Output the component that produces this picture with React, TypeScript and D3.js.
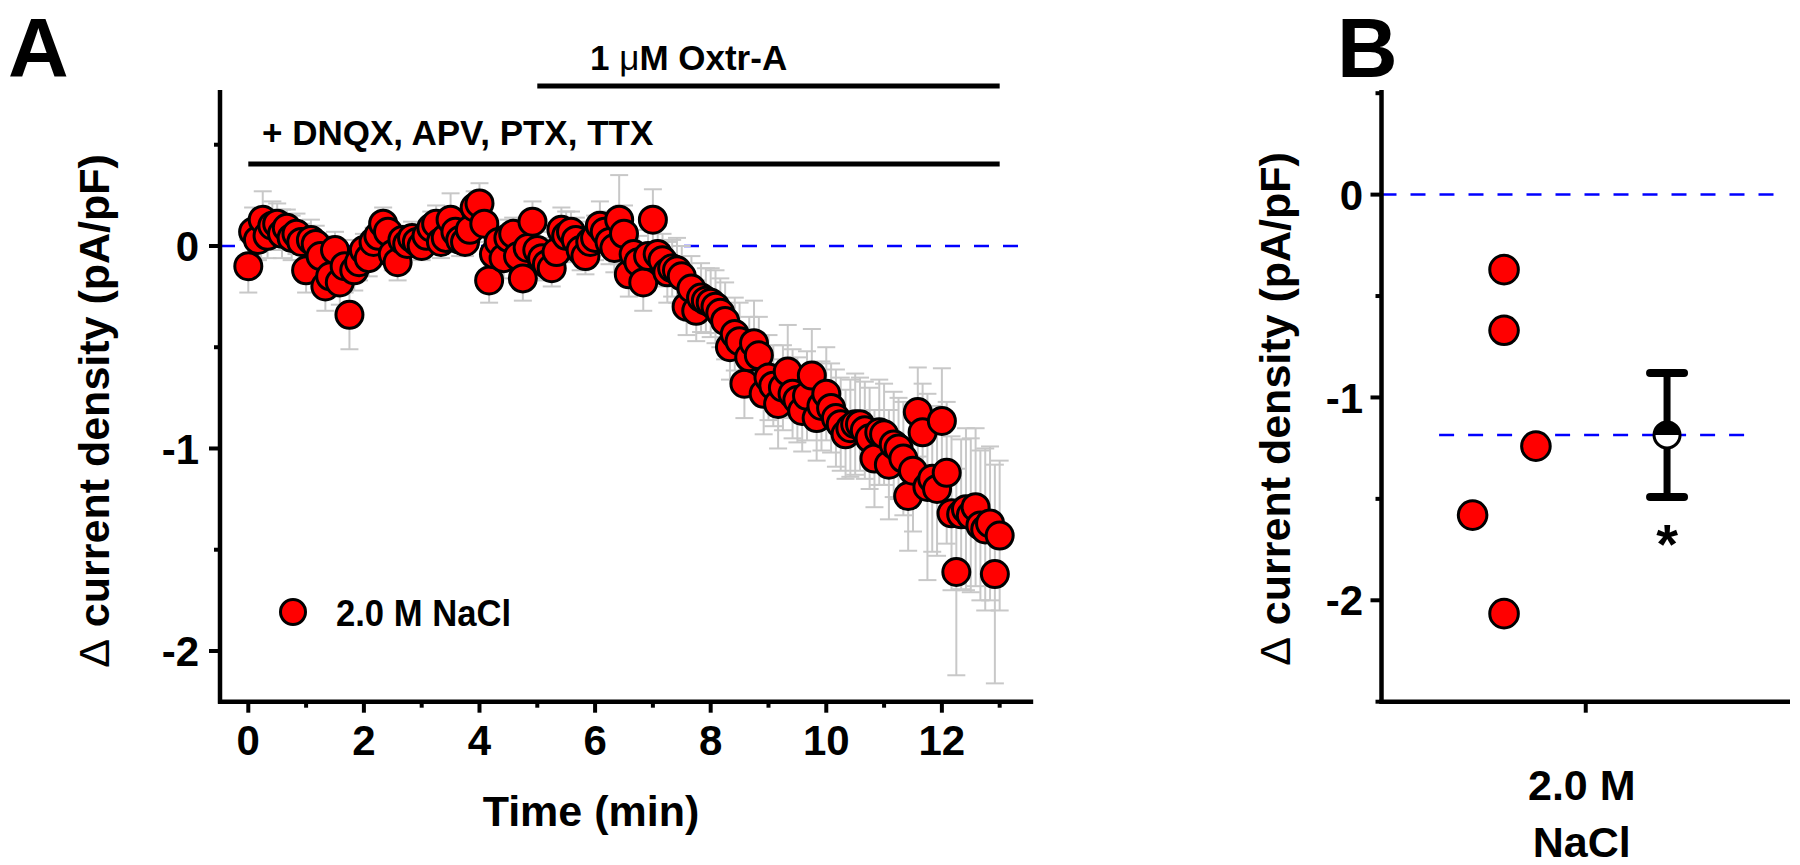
import React from 'react';
import * as d3 from 'd3';

// ---------- Panel A data (5 s sampling, minutes) ----------
const SAMPLE_INTERVAL_MIN = 5 / 60;
const deltaA: number[] = [
  -0.10, 0.07, 0.03, 0.13, 0.05, 0.10, 0.11, 0.06, 0.09, 0.04, 0.06, 0.02,
  -0.12, 0.03, 0.01, -0.05, -0.20, -0.15, -0.02, -0.18, -0.10, -0.34, -0.12, -0.08,
  -0.02, -0.06, 0.02, 0.05, 0.11, 0.07, -0.04, -0.08, 0.03, 0.01, 0.04, 0.02,
  0.00, 0.05, 0.09, 0.11, 0.02, 0.04, 0.13, 0.07, 0.03, 0.02, 0.08, 0.19,
  0.21, 0.11, -0.17, -0.04, 0.02, -0.06, 0.04, 0.06, -0.05, -0.16, -0.01, 0.12,
  -0.02, -0.06, -0.09, -0.11, -0.03, 0.08, 0.05, 0.07, 0.03, -0.02, -0.05, 0.02,
  0.04, 0.10, 0.07, 0.02, -0.01, 0.13, 0.06, -0.14, -0.04, -0.08, -0.18, -0.05,
  0.13, -0.04, -0.07, -0.13, -0.11, -0.12, -0.15, -0.30, -0.21, -0.32, -0.255, -0.27,
  -0.28, -0.30, -0.33, -0.37, -0.50, -0.435, -0.47, -0.68, -0.55, -0.48, -0.54, -0.73,
  -0.65, -0.69, -0.78, -0.70, -0.62, -0.73, -0.76, -0.815, -0.74, -0.64, -0.85, -0.79,
  -0.73, -0.80, -0.85, -0.88, -0.93, -0.90, -0.88, -0.88, -0.91, -0.95, -1.05, -0.92,
  -0.93, -1.08, -0.98, -1.00, -1.05, -1.235, -1.11, -0.82, -0.92, -1.19, -1.15, -1.20,
  -0.864, -1.12, -1.32, -1.61, -1.325, -1.30, -1.33, -1.29, -1.38, -1.40, -1.37, -1.62,
  -1.43,
];
const semA: number[] = [
  0.13, 0.12, 0.10, 0.14, 0.11, 0.12, 0.10, 0.12, 0.09, 0.11, 0.10, 0.09,
  0.11, 0.10, 0.09, 0.10, 0.12, 0.10, 0.09, 0.11, 0.13, 0.17, 0.10, 0.09,
  0.08, 0.09, 0.07, 0.09, 0.08, 0.07, 0.08, 0.09, 0.07, 0.06, 0.08, 0.07,
  0.07, 0.06, 0.08, 0.09, 0.08, 0.07, 0.13, 0.09, 0.08, 0.07, 0.09, 0.08,
  0.10, 0.09, 0.11, 0.09, 0.08, 0.10, 0.09, 0.08, 0.10, 0.11, 0.09, 0.10,
  0.09, 0.10, 0.08, 0.09, 0.10, 0.11, 0.12, 0.10, 0.11, 0.10, 0.09, 0.10,
  0.11, 0.12, 0.10, 0.11, 0.12, 0.22, 0.14, 0.11, 0.12, 0.13, 0.14, 0.13,
  0.15, 0.14, 0.13, 0.15, 0.14, 0.16, 0.15, 0.14, 0.16, 0.15, 0.17, 0.16,
  0.17, 0.18, 0.17, 0.19, 0.16, 0.18, 0.19, 0.17, 0.20, 0.21, 0.19, 0.20,
  0.21, 0.20, 0.22, 0.21, 0.23, 0.22, 0.21, 0.20, 0.22, 0.23, 0.21, 0.22,
  0.23, 0.22, 0.24, 0.23, 0.22, 0.24, 0.25, 0.23, 0.24, 0.25, 0.24, 0.26,
  0.25, 0.27, 0.26, 0.25, 0.28, 0.27, 0.30, 0.22, 0.24, 0.46, 0.36, 0.33,
  0.26, 0.35, 0.38, 0.51, 0.37, 0.40, 0.38, 0.39, 0.37, 0.40, 0.38, 0.54,
  0.37,
];
const xTicksMajorA = [0, 2, 4, 6, 8, 10, 12];
const xTicksMinorA = [1, 3, 5, 7, 9, 11, 13];
const yTicksMajorA = [0, -1, -2];
const yTicksMinorA = [0.5, -0.5, -1.5];
const drugBar = { label: '+ DNQX, APV, PTX, TTX', start: 0, end: 13 };
const oxtrBar = { label: 'M Oxtr-A', start: 5, end: 13 };
const legendLabel = '2.0 M NaCl';

// ---------- Panel B data ----------
const cellsB: number[] = [-0.37, -0.669, -1.24, -1.58, -2.066];
const jitterB: number[] = [0.30, 0.30, 0.378, 0.223, 0.30];
const yTicksMajorB = [0, -1, -2];
const yTicksMinorB = [0.5, -0.5, -1.5, -2.5];
const categoryB = ['2.0 M', 'NaCl'];

const FONT = "'Liberation Sans', Arial, Helvetica, sans-serif";
const RED = '#ff0000';
const BLUE = '#0000ff';
const GREY = '#c8c8c8';

export default function App() {
  const timesA = deltaA.map((_, i) => i * SAMPLE_INTERVAL_MIN);
  const xA = d3.scaleLinear().domain([-0.5, 13.58]).range([219.4, 1033.2]);
  const yA = d3.scaleLinear().domain([-2.25, 0.75]).range([701.6, 94.1]);
  const axisYA = 701.7;
  const axisXA = 220;

  const xB = d3.scaleLinear().domain([0, 1]).range([1381.5, 1790]);
  const yB = d3.scaleLinear().domain([-2.5, 0.5]).range([701.7, 93.2]);
  const meanB = d3.mean(cellsB) as number;
  const sdB = d3.deviation(cellsB) as number;
  const semB = sdB / Math.sqrt(cellsB.length);
  const axisYB = 701.7;
  const axisXB = 1381.5;

  const meanX = xB(0.699);
  const meanY = yB(meanB);
  const mr = 13;

  return (
    <svg width={1800} height={865} style={{ position: 'absolute', left: 0, top: 0, background: '#fff' }} fontFamily={FONT}>
      <rect width={1800} height={865} fill="#fff" />
      {/* ---------------- Panel A ---------------- */}
      <text x={8} y={77} fontSize={84} fontWeight="bold">A</text>

      {/* treatment bars */}
      <text x={590} y={70} fontSize={35} fontWeight="bold">
        1 <tspan fontWeight="normal">μ</tspan>{oxtrBar.label}
      </text>
      <line x1={xA(oxtrBar.start)} x2={xA(oxtrBar.end)} y1={86} y2={86} stroke="#000" strokeWidth={5} />
      <text x={262} y={145} fontSize={35} fontWeight="bold">{drugBar.label}</text>
      <line x1={xA(drugBar.start)} x2={xA(drugBar.end)} y1={164} y2={164} stroke="#000" strokeWidth={5} />

      {/* zero line */}
      <line x1={axisXA} x2={1020} y1={yA(0)} y2={yA(0)} stroke={BLUE} strokeWidth={2.5} strokeDasharray="15 14" />

      {/* error bars */}
      <g stroke={GREY} strokeWidth={2}>
        {deltaA.map((v, i) => {
          const x = xA(timesA[i]);
          const t = yA(v + semA[i]);
          const b = yA(v - semA[i]);
          return (
            <g key={i}>
              <line x1={x} x2={x} y1={t} y2={b} />
              <line x1={x - 9} x2={x + 9} y1={t} y2={t} />
              <line x1={x - 9} x2={x + 9} y1={b} y2={b} />
            </g>
          );
        })}
      </g>
      {/* points */}
      <g fill={RED} stroke="#000" strokeWidth={3}>
        {deltaA.map((v, i) => (
          <circle key={i} cx={xA(timesA[i])} cy={yA(v)} r={13.5} />
        ))}
      </g>

      {/* legend */}
      <circle cx={293} cy={612} r={12.5} fill={RED} stroke="#000" strokeWidth={3} />
      <text x={336} y={626} fontSize={37} fontWeight="bold" textLength={175} lengthAdjust="spacingAndGlyphs">{legendLabel}</text>

      {/* axes A */}
      <line x1={axisXA} x2={axisXA} y1={90} y2={axisYA + 2} stroke="#000" strokeWidth={4.5} />
      <line x1={axisXA - 2} x2={xA(13.58)} y1={axisYA} y2={axisYA} stroke="#000" strokeWidth={4.5} />
      {yTicksMajorA.map((t) => (
        <g key={t}>
          <line x1={axisXA - 11} x2={axisXA} y1={yA(t)} y2={yA(t)} stroke="#000" strokeWidth={4} />
          <text x={199} y={yA(t)} dy="0.36em" textAnchor="end" fontSize={42} fontWeight="bold">{t}</text>
        </g>
      ))}
      {yTicksMinorA.map((t) => (
        <line key={t} x1={axisXA - 6} x2={axisXA} y1={yA(t)} y2={yA(t)} stroke="#000" strokeWidth={4} />
      ))}
      {xTicksMajorA.map((t) => (
        <g key={t}>
          <line x1={xA(t)} x2={xA(t)} y1={axisYA} y2={axisYA + 11} stroke="#000" strokeWidth={4} />
          <text x={xA(t)} y={755} textAnchor="middle" fontSize={42} fontWeight="bold">{t}</text>
        </g>
      ))}
      {xTicksMinorA.map((t) => (
        <line key={t} x1={xA(t)} x2={xA(t)} y1={axisYA} y2={axisYA + 6} stroke="#000" strokeWidth={4} />
      ))}
      <text x={591} y={826} textAnchor="middle" fontSize={43} fontWeight="bold">Time (min)</text>
      <text transform="translate(109,411) rotate(-90)" textAnchor="middle" fontSize={43} fontWeight="bold">
        <tspan fontWeight="normal">Δ</tspan>{' current density (pA/pF)'}
      </text>

      {/* ---------------- Panel B ---------------- */}
      <text x={1337} y={77} fontSize={84} fontWeight="bold">B</text>

      <line x1={axisXB} x2={1778} y1={yB(0)} y2={yB(0)} stroke={BLUE} strokeWidth={2.5} strokeDasharray="15 14" />
      <line x1={xB(0.141)} x2={xB(0.89)} y1={meanY} y2={meanY} stroke={BLUE} strokeWidth={2.5} strokeDasharray="15 14" />

      {/* individual cells */}
      <g fill={RED} stroke="#000" strokeWidth={3}>
        {cellsB.map((v, i) => (
          <circle key={i} cx={xB(jitterB[i])} cy={yB(v)} r={14.3} />
        ))}
      </g>

      {/* mean +/- SEM */}
      <line x1={meanX} x2={meanX} y1={yB(meanB + semB)} y2={yB(meanB - semB)} stroke="#000" strokeWidth={7} />
      <line x1={meanX - 17} x2={meanX + 17} y1={yB(meanB + semB)} y2={yB(meanB + semB)} stroke="#000" strokeWidth={8} strokeLinecap="round" />
      <line x1={meanX - 17} x2={meanX + 17} y1={yB(meanB - semB)} y2={yB(meanB - semB)} stroke="#000" strokeWidth={8} strokeLinecap="round" />
      <circle cx={meanX} cy={meanY} r={mr} fill="#fff" />
      <path d={`M${meanX - mr},${meanY} A${mr},${mr} 0 0 1 ${meanX + mr},${meanY} Z`} fill="#000" />
      <circle cx={meanX} cy={meanY} r={mr} fill="none" stroke="#000" strokeWidth={3} />
      <text x={meanX} y={563} textAnchor="middle" fontSize={56} fontWeight="bold">*</text>

      {/* axes B */}
      <line x1={axisXB} x2={axisXB} y1={90} y2={axisYB + 2} stroke="#000" strokeWidth={4.5} />
      <line x1={axisXB - 2} x2={1790} y1={axisYB} y2={axisYB} stroke="#000" strokeWidth={4.5} />
      {yTicksMajorB.map((t) => (
        <g key={t}>
          <line x1={axisXB - 11} x2={axisXB} y1={yB(t)} y2={yB(t)} stroke="#000" strokeWidth={4} />
          <text x={1363} y={yB(t)} dy="0.36em" textAnchor="end" fontSize={42} fontWeight="bold">{t}</text>
        </g>
      ))}
      {yTicksMinorB.map((t) => (
        <line key={t} x1={axisXB - 6} x2={axisXB} y1={yB(t)} y2={yB(t)} stroke="#000" strokeWidth={4} />
      ))}
      <line x1={xB(0.5)} x2={xB(0.5)} y1={axisYB} y2={axisYB + 11} stroke="#000" strokeWidth={4} />
      <text x={xB(0.5) - 4} y={800} textAnchor="middle" fontSize={43} fontWeight="bold">{categoryB[0]}</text>
      <text x={xB(0.5) - 4} y={857} textAnchor="middle" fontSize={43} fontWeight="bold">{categoryB[1]}</text>
      <text transform="translate(1290,409) rotate(-90)" textAnchor="middle" fontSize={43} fontWeight="bold">
        <tspan fontWeight="normal">Δ</tspan>{' current density (pA/pF)'}
      </text>
    </svg>
  );
}
